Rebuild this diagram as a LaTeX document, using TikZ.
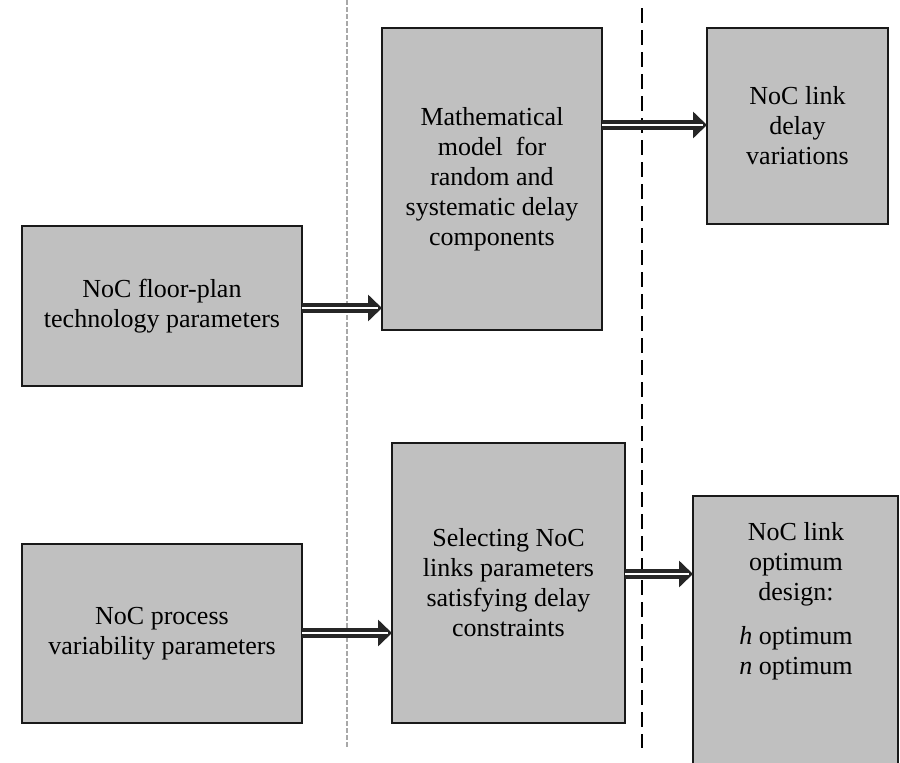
\documentclass[tikz,border=0pt]{standalone}
\usepackage{fontspec}
\setmainfont{Liberation Serif}
\usetikzlibrary{arrows.meta}
\definecolor{boxgrey}{HTML}{C0C0C0}
\definecolor{arrowdark}{HTML}{262626}
\definecolor{dashgrey}{HTML}{A8A8A8}
\tikzset{
  box/.style={draw=black!90, line width=2pt, fill=boxgrey, inner sep=0pt, outer sep=0pt,
    align=center, anchor=north west, font=\fontsize{26}{30}\selectfont},
  boxtext/.style={align=center, inner sep=0pt, font=\fontsize{26}{30}\selectfont},
  shaft/.style={line width=10pt, draw=arrowdark, -{Triangle[length=14pt,width=26pt]}},
  core/.style={line width=2.5pt, draw=white},
  greydash/.style={draw=dashgrey, line width=2pt, dash pattern=on 5pt off 2pt},
  blackdash/.style={draw=black, line width=2pt, dash pattern=on 15pt off 7pt},
}
\begin{document}
\begin{tikzpicture}[x=1pt,y=-1pt]
\useasboundingbox (0,0) rectangle (900,763);
\begin{scope}
\clip (0,0) rectangle (900,763);
% separators
\draw[greydash] (347,0) -- (347,748);
\draw[blackdash] (642,8) -- (642,748);
% boxes
\node[box, minimum width=280pt, minimum height=160pt] (b1) at (22,226)
  {NoC floor-plan\\technology parameters};
\node[box, minimum width=220pt, minimum height=302pt] (b2) at (382,28)
  {Mathematical\\model~ for\\random and\\systematic delay\\components};
\node[box, minimum width=181pt, minimum height=196pt] (b3) at (707,28)
  {NoC link\\delay\\variations};
\node[box, minimum width=280pt, minimum height=179pt] (b4) at (22,544)
  {NoC process\\variability parameters};
\node[box, minimum width=233pt, minimum height=280pt] (b5) at (392,443)
  {Selecting NoC\\links parameters\\satisfying delay\\constraints};
\node[box, minimum width=205pt, minimum height=290pt] (b6) at (693,496) {};
\node[boxtext, anchor=north] (b6t) at (796,522)
  {NoC link\\optimum\\design:\\[14pt]\textit{h} optimum\\\textit{n} optimum};
% arrows
\coordinate (a1y) at (0,308);
\coordinate (a2y) at (0,125);
\coordinate (a3y) at (0,633);
\coordinate (a4y) at (0,574);
\draw[shaft] (b1.east |- a1y) -- (b2.west |- a1y);
\draw[core] (b1.east |- a1y) -- ([xshift=-4pt]b2.west |- a1y);
\draw[shaft] (b2.east |- a2y) -- (b3.west |- a2y);
\draw[core] (b2.east |- a2y) -- ([xshift=-4pt]b3.west |- a2y);
\draw[shaft] (b4.east |- a3y) -- (b5.west |- a3y);
\draw[core] (b4.east |- a3y) -- ([xshift=-4pt]b5.west |- a3y);
\draw[shaft] (b5.east |- a4y) -- (b6.west |- a4y);
\draw[core] (b5.east |- a4y) -- ([xshift=-4pt]b6.west |- a4y);
\end{scope}
\end{tikzpicture}
\end{document}
